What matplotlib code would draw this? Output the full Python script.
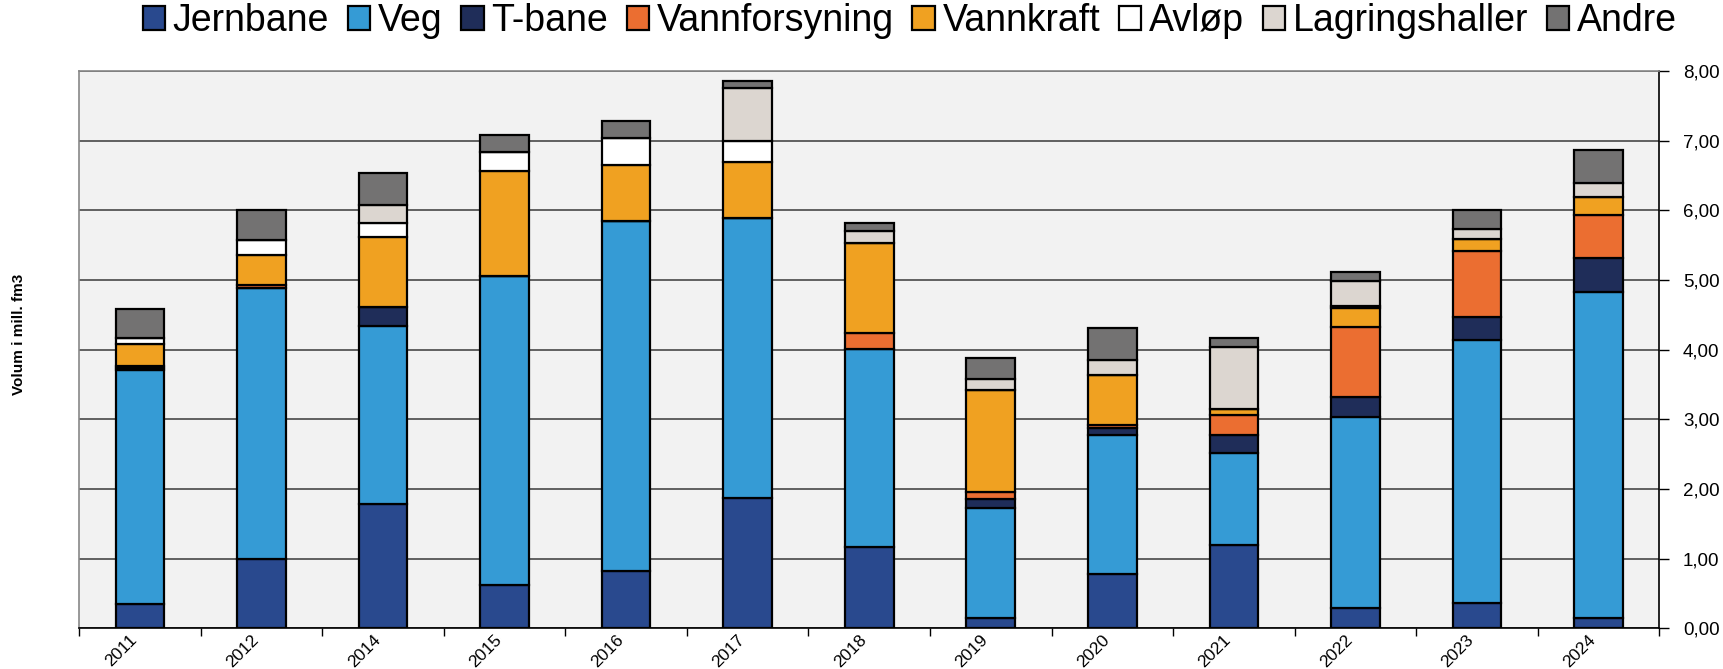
import matplotlib.pyplot as plt
import numpy as np
from matplotlib.ticker import FuncFormatter

plt.rcParams['font.family'] = ['Liberation Sans', 'DejaVu Sans']

years = ['2011', '2012', '2014', '2015', '2016', '2017', '2018',
         '2019', '2020', '2021', '2022', '2023', '2024']

# volumes in mill. fm3
jernbane = [0.35, 1.00, 1.78, 0.62, 0.82, 1.87, 1.17, 0.14, 0.78, 1.19, 0.29, 0.36, 0.14]
veg = [3.35, 3.88, 2.56, 4.44, 5.02, 4.02, 2.84, 1.59, 2.00, 1.33, 2.74, 3.77, 4.69]
tbane = [0.03, 0.00, 0.27, 0.00, 0.01, 0.00, 0.00, 0.13, 0.10, 0.26, 0.29, 0.34, 0.49]
vannforsyning = [0.04, 0.05, 0.00, 0.00, 0.00, 0.00, 0.23, 0.10, 0.03, 0.28, 1.00, 0.94, 0.61]
vannkraft = [0.31, 0.43, 1.00, 1.50, 0.80, 0.80, 1.29, 1.46, 0.73, 0.09, 0.27, 0.17, 0.26]
avlop = [0.08, 0.21, 0.21, 0.27, 0.39, 0.31, 0.00, 0.00, 0.00, 0.00, 0.04, 0.00, 0.00]
lagringshaller = [0.00, 0.00, 0.25, 0.00, 0.00, 0.75, 0.17, 0.16, 0.21, 0.89, 0.36, 0.15, 0.20]
andre = [0.42, 0.44, 0.46, 0.25, 0.24, 0.10, 0.12, 0.30, 0.46, 0.13, 0.13, 0.28, 0.47]

series = [
    ('Jernbane', jernbane, '#29498e'),
    ('Veg', veg, '#359bd5'),
    ('T-bane', tbane, '#1f2d59'),
    ('Vannforsyning', vannforsyning, '#eb6e31'),
    ('Vannkraft', vannkraft, '#f0a121'),
    ('Avløp', avlop, '#ffffff'),
    ('Lagringshaller', lagringshaller, '#dcd6d0'),
    ('Andre', andre, '#737272'),
]

fig = plt.figure(figsize=(17.23, 6.69), dpi=100)
ax = fig.add_axes([0.046, 0.061, 0.917, 0.833])
ax.set_facecolor('#f2f2f2')

x = np.arange(len(years))
bottom = np.zeros(len(years))
for name, vals, col in series:
    vals = np.array(vals)
    ax.bar(x, vals, 0.4, bottom=bottom, color=col, edgecolor='black',
           linewidth=1.6, label=name, zorder=3)
    bottom += vals

ax.set_xlim(-0.5, len(years) - 0.5)
ax.set_ylim(0, 8)
ax.set_yticks(np.arange(0, 9, 1))
ax.yaxis.set_major_formatter(FuncFormatter(lambda v, p: f'{v:.2f}'.replace('.', ',')))
ax.yaxis.tick_right()
ax.tick_params(axis='y', direction='out', length=7, width=1, labelsize=13.5, pad=10)
ax.grid(axis='y', color='#3a3a3a', linewidth=1.1, zorder=1)

# category labels centred, tick marks between categories
ax.set_xticks(np.arange(-0.5, len(years), 1))
ax.set_xticklabels([])
ax.set_xticks(x, minor=True)
ax.set_xticklabels(years, minor=True, rotation=45, ha='right', fontsize=12.5)
ax.tick_params(axis='x', which='major', direction='out', length=6, width=1)
ax.tick_params(axis='x', which='minor', length=0, pad=3)

for s in ['left', 'top']:
    ax.spines[s].set_color('#888888')
    ax.spines[s].set_linewidth(1.2)
ax.spines['right'].set_color('black')
ax.spines['right'].set_linewidth(1.2)
ax.spines['bottom'].set_color('black')
ax.spines['bottom'].set_linewidth(1.2)

fig.text(0.011, 0.5, 'Volum i mill. fm3', rotation=90, va='center', ha='center',
         fontsize=11, fontweight='bold')

fig.legend(loc='center', bbox_to_anchor=(0.528, 0.968), ncol=8, frameon=False,
           fontsize=27, handlelength=0.6, handleheight=0.6, handletextpad=0.2,
           columnspacing=0.5, borderpad=0.1)

fig.savefig('out.png', dpi=100)
